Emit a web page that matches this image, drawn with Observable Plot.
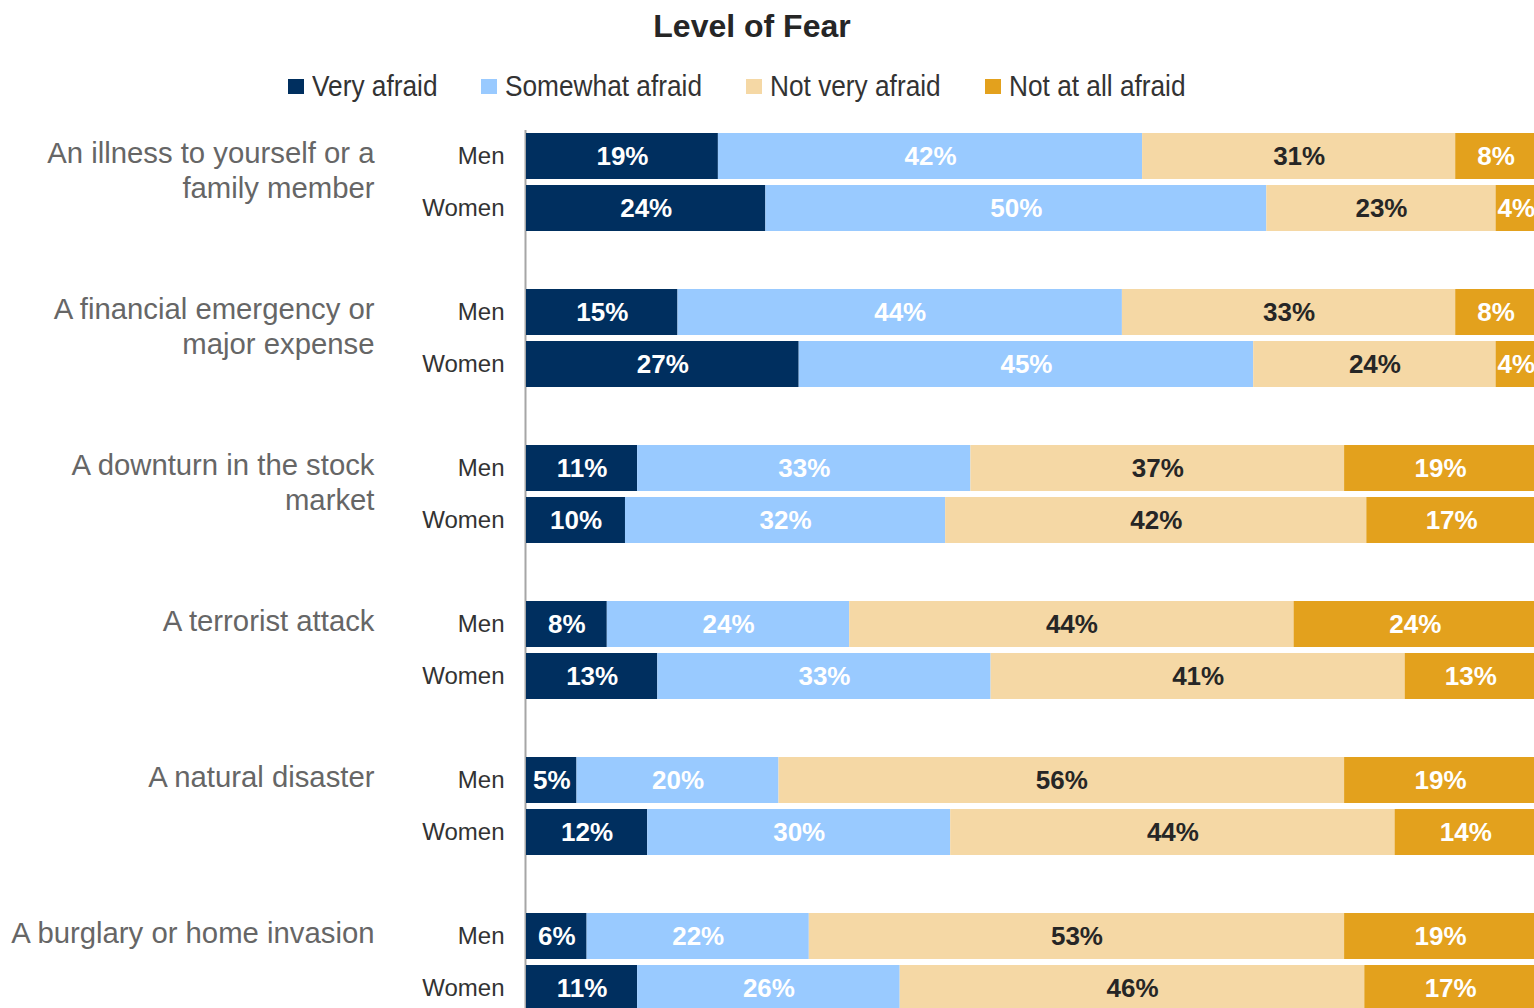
<!DOCTYPE html>
<html>
<head>
<meta charset="utf-8">
<script src="https://cdn.jsdelivr.net/npm/d3@7"></script>
<script src="https://cdn.jsdelivr.net/npm/@observablehq/plot@0.6"></script>
<style>
  html, body { margin: 0; padding: 0; background: #fff; overflow: hidden; }
  #page { position: relative; width: 1534px; height: 1008px; }
  #header { position: relative; height: 120px; }
  #title { position: absolute; left: 0; width: 1504px; top: 8px; text-align: center;
           font: bold 32px "Liberation Sans", Arial, sans-serif; color: #262626; }
  #legend { position: absolute; left: 288px; top: 69px; display: flex; gap: 44px; align-items: center;
            font: 30px "Liberation Sans", Arial, sans-serif; color: #333; }
  .item { display: flex; align-items: center; gap: 8px; white-space: nowrap; }
  .sw { width: 16px; height: 15px; display: inline-block; }
  .tx { display: inline-block; transform-origin: left center; }
  #chart svg { display: block; }
</style>
</head>
<body>
<div id="page">
  <div id="header">
    <div id="title"></div>
    <div id="legend"></div>
  </div>
  <div id="chart"></div>
</div>
<script>
const titleText = "Level of Fear";
const categories = [
  "An illness to yourself or a\nfamily member",
  "A financial emergency or\nmajor expense",
  "A downturn in the stock\nmarket",
  "A terrorist attack",
  "A natural disaster",
  "A burglary or home invasion"
];
const genders = ["Men", "Women"];
const levels = ["Very afraid", "Somewhat afraid", "Not very afraid", "Not at all afraid"];
const colors = ["#002f5f", "#99caff", "#f5d8a5", "#e3a11d"];
const labelColors = ["#ffffff", "#ffffff", "#262626", "#ffffff"];

// values per category (same order as categories)
const veryAfraidMen       = [19, 15, 11, 8, 5, 6];
const veryAfraidWomen     = [23.7, 27, 9.8, 13, 12, 11];
const somewhatAfraidMen   = [42, 44, 33, 24, 20, 22];
const somewhatAfraidWomen = [49.6, 45, 31.7, 33, 30, 26];
const notVeryAfraidMen    = [31, 33, 37, 44, 56, 53];
const notVeryAfraidWomen  = [22.7, 24, 41.7, 41, 44, 46];
const notAtAllAfraidMen   = [8, 8, 19, 24, 19, 19];
const notAtAllAfraidWomen = [4, 4, 16.8, 13, 14, 17];

const series = {
  Men: [veryAfraidMen, somewhatAfraidMen, notVeryAfraidMen, notAtAllAfraidMen],
  Women: [veryAfraidWomen, somewhatAfraidWomen, notVeryAfraidWomen, notAtAllAfraidWomen]
};

// header
document.getElementById("title").textContent = titleText;
const leg = document.getElementById("legend");
const narrow = 0.875;
levels.forEach((l, i) => {
  const it = document.createElement("div");
  it.className = "item";
  const sw = document.createElement("span");
  sw.className = "sw";
  sw.style.background = colors[i];
  const tx = document.createElement("span");
  tx.className = "tx";
  tx.textContent = l;
  it.appendChild(sw); it.appendChild(tx);
  leg.appendChild(it);
  const w = tx.offsetWidth;
  tx.style.transform = `scaleX(${narrow})`;
  tx.style.width = (w * narrow) + "px";
});

// rows
const rowKeys = [];
categories.forEach((c, ci) => {
  rowKeys.push(`${ci}-Men`, `${ci}-Women`, `${ci}-gap`);
});
const data = [];
categories.forEach((c, ci) => {
  genders.forEach(g => {
    levels.forEach((l, li) => {
      data.push({row: `${ci}-${g}`, level: l, li, value: series[g][li][ci]});
    });
  });
});
const catData = categories.map((c, ci) => ({row: `${ci}-Men`, label: c}));

const W = 1534, H = 888;

const chart = Plot.plot({
  width: W,
  height: H,
  marginTop: 10, marginBottom: 0, marginLeft: 526, marginRight: 0,
  style: {fontFamily: "'Liberation Sans', Arial, sans-serif", background: "#fff", overflow: "hidden"},
  x: {domain: [0, 100], range: [526, 1536], axis: null},
  y: {domain: rowKeys, range: [10, 946], paddingInner: 0.11, paddingOuter: 0.055, axis: null},
  color: {domain: levels, range: colors},
  marks: [
    Plot.ruleX([0], {stroke: "#a6a6a6", strokeWidth: 2, dx: -1}),
    Plot.barX(data, Plot.stackX({x: "value", y: "row", fill: "level", order: null})),
    Plot.text(data, Plot.stackX({
      x: "value", y: "row", order: null,
      text: d => Math.round(d.value) + "%",
      fill: d => labelColors[d.li], fontSize: 26, fontWeight: "bold"
    })),
    Plot.axisY({tickSize: 0, tickPadding: 22, fontSize: 24, color: "#333", label: null,
      tickFormat: k => k.endsWith("gap") ? "" : k.split("-")[1]}),
    Plot.text(catData, {
      y: "row", text: "label", frameAnchor: "left", dx: -152, textAnchor: "end",
      lineAnchor: "top", dy: -18, lineHeight: 1.19, fontSize: 29.3, fill: "#666"
    })
  ]
});
document.getElementById("chart").appendChild(chart);
</script>
</body>
</html>
